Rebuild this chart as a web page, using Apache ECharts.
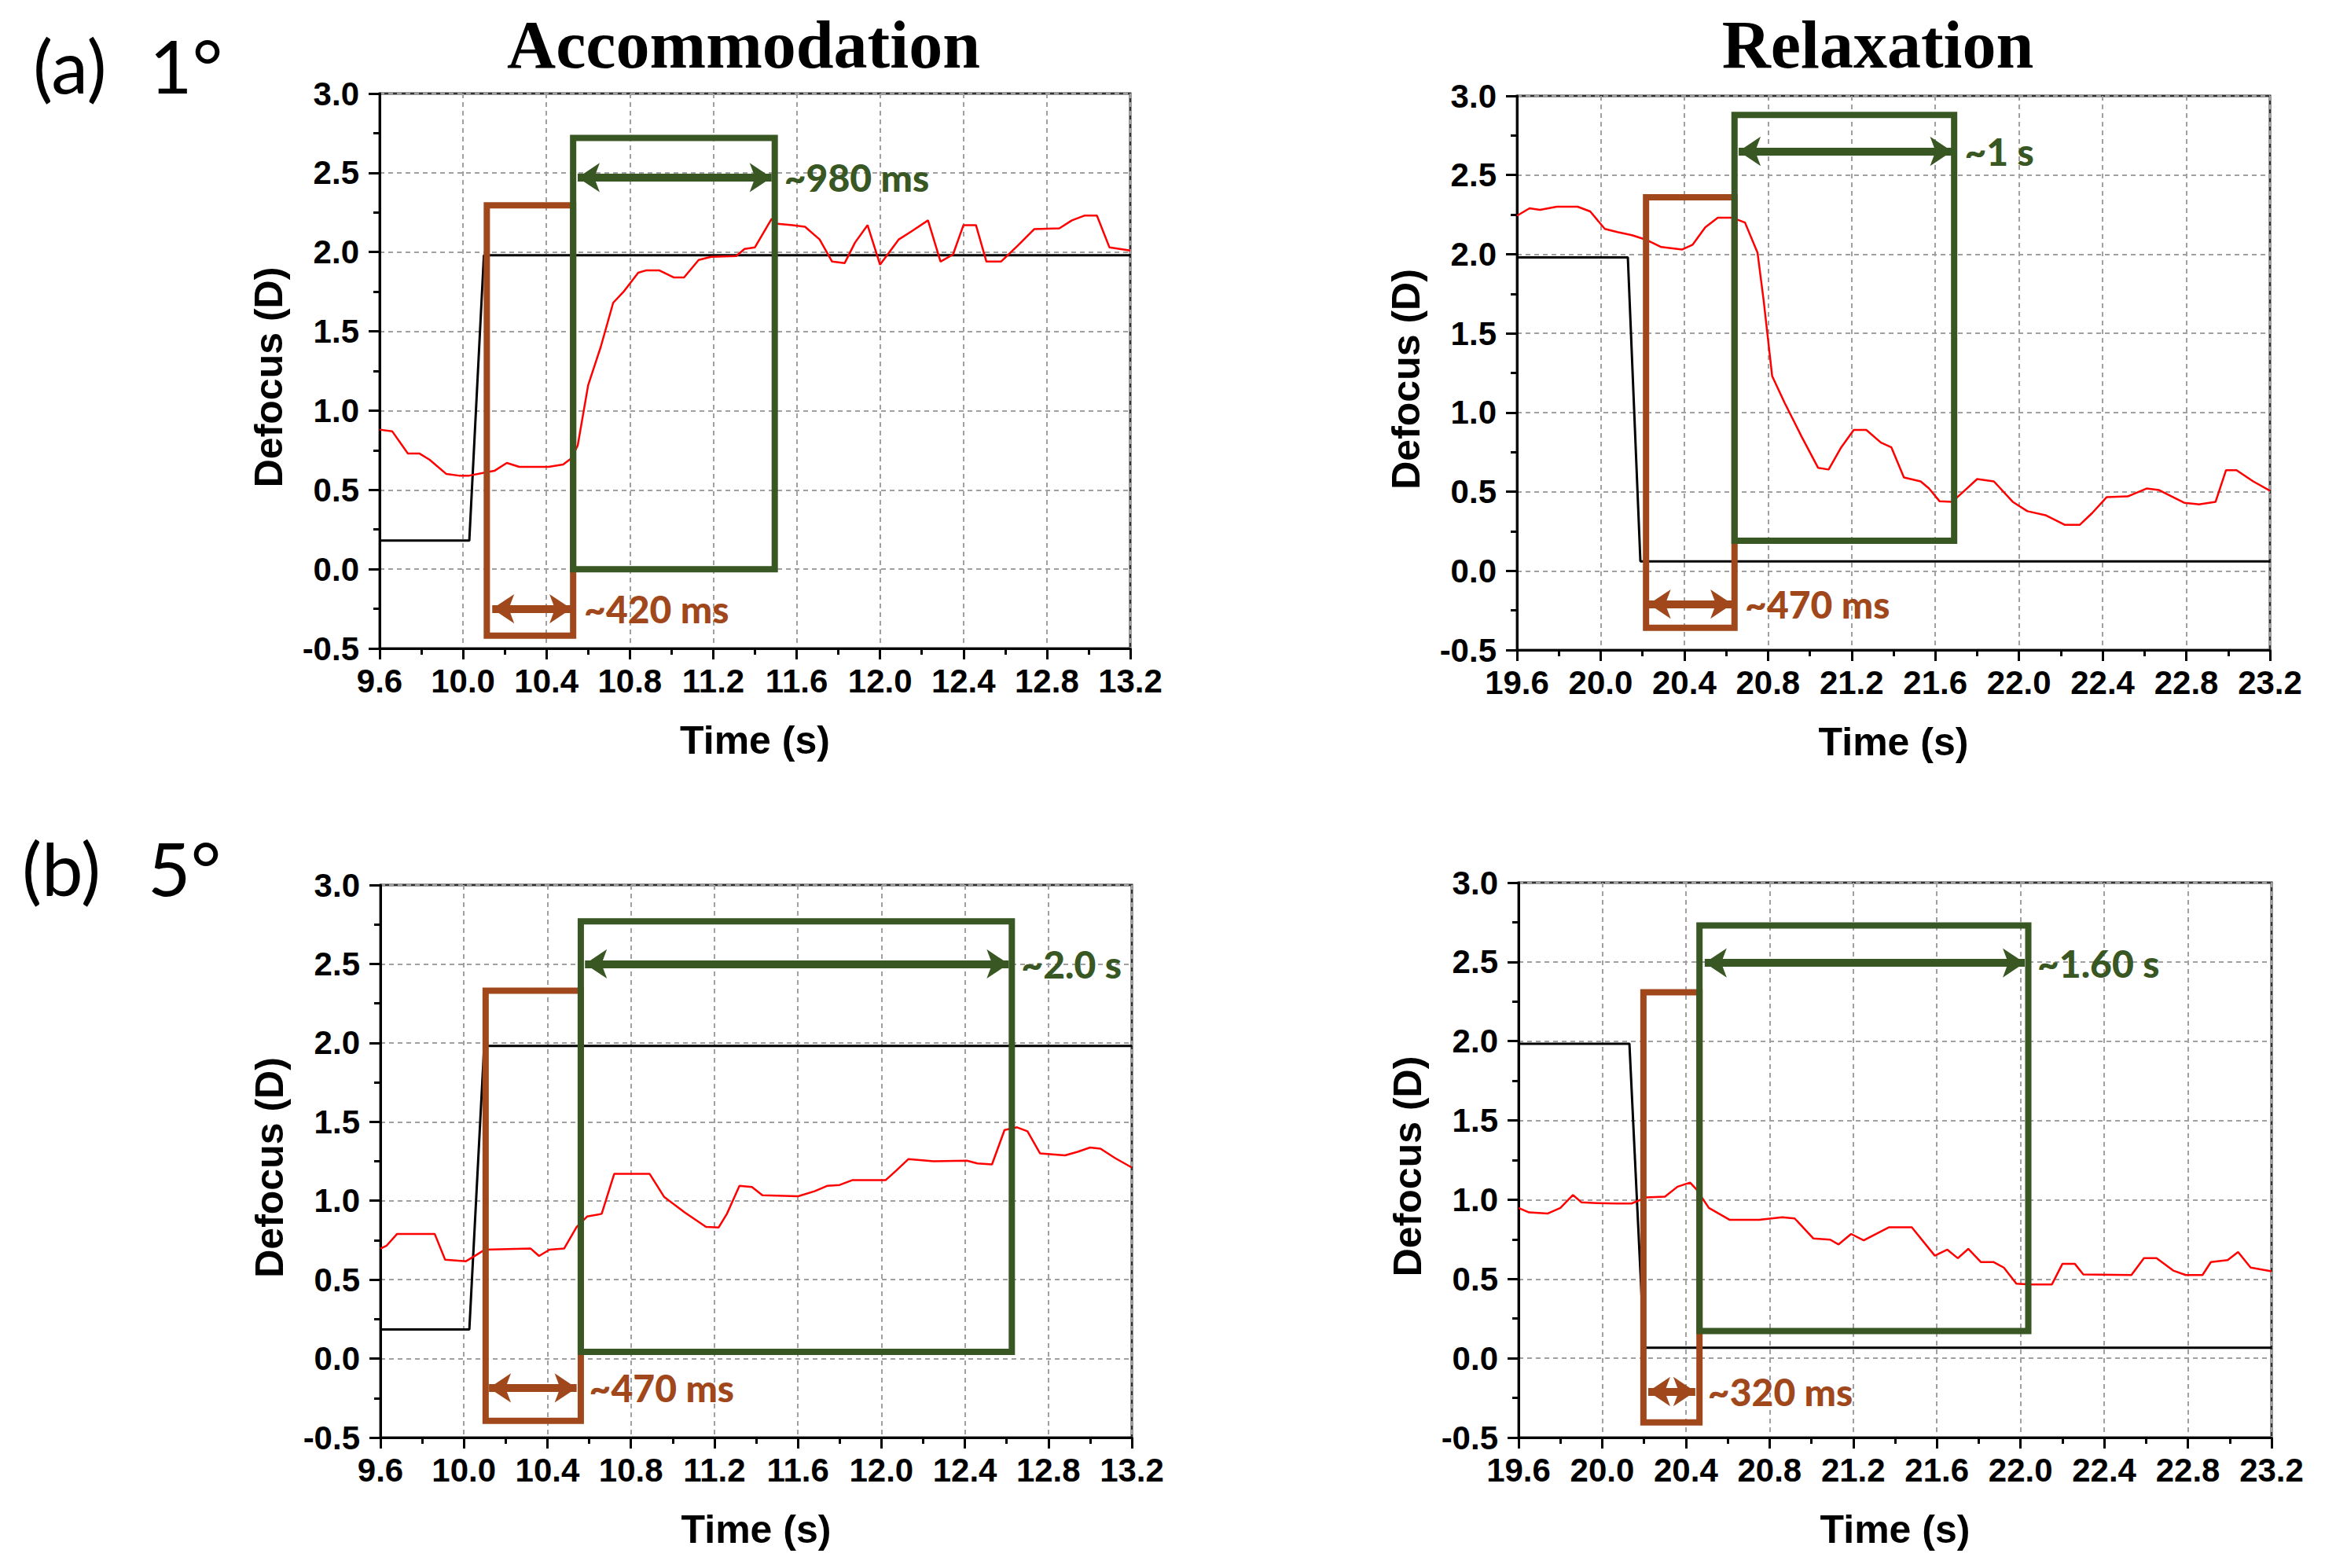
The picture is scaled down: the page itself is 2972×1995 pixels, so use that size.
<!DOCTYPE html>
<html>
<head>
<meta charset="utf-8">
<script src="https://cdn.jsdelivr.net/npm/echarts@6/dist/echarts.min.js"></script>
<style>
html,body{margin:0;padding:0;background:#fff;}
#chart{width:2972px;height:1995px;}
</style>
</head>
<body>
<div id="chart"></div>
<script>
// ---------- DATA ----------
const panelTitles = ['Accommodation', 'Relaxation'];
const rowLabels = [['(a)', '1°'], ['(b)', '5°']];
const xRanges = [[9.6, 13.2], [19.6, 23.2], [9.6, 13.2], [19.6, 23.2]];
const yRange = [-0.5, 3.0];

// Measured defocus (red)
const measuredA = [[9.6,0.88],[9.66,0.87],[9.735,0.73],[9.79,0.73],[9.84,0.69],[9.92,0.60],[9.98,0.59],[10.03,0.59],[10.11,0.61],[10.15,0.62],[10.21,0.67],[10.27,0.645],[10.41,0.645],[10.48,0.66],[10.52,0.70],[10.55,0.78],[10.60,1.16],[10.66,1.40],[10.72,1.68],[10.77,1.75],[10.84,1.87],[10.88,1.885],[10.94,1.885],[11.01,1.84],[11.06,1.84],[11.13,1.95],[11.19,1.97],[11.31,1.975],[11.35,2.02],[11.40,2.03],[11.48,2.21],[11.50,2.18],[11.58,2.17],[11.64,2.16],[11.71,2.08],[11.77,1.94],[11.83,1.93],[11.88,2.06],[11.94,2.17],[12.00,1.92],[12.09,2.08],[12.15,2.13],[12.23,2.20],[12.29,1.94],[12.35,1.985],[12.40,2.17],[12.46,2.17],[12.51,1.94],[12.58,1.94],[12.66,2.04],[12.74,2.145],[12.86,2.15],[12.92,2.20],[12.98,2.23],[13.04,2.23],[13.10,2.03],[13.2,2.01]];
const measuredB = [[19.6,2.243],[19.66,2.29],[19.71,2.28],[19.79,2.30],[19.89,2.30],[19.95,2.27],[20.02,2.16],[20.08,2.14],[20.15,2.12],[20.22,2.09],[20.29,2.045],[20.39,2.03],[20.44,2.06],[20.50,2.17],[20.56,2.23],[20.63,2.23],[20.69,2.20],[20.75,2.01],[20.78,1.70],[20.82,1.23],[20.88,1.06],[20.96,0.85],[21.04,0.65],[21.09,0.64],[21.15,0.78],[21.21,0.89],[21.27,0.89],[21.34,0.81],[21.39,0.78],[21.45,0.59],[21.53,0.565],[21.57,0.52],[21.62,0.44],[21.68,0.436],[21.73,0.495],[21.80,0.58],[21.88,0.565],[21.97,0.436],[22.04,0.377],[22.13,0.35],[22.22,0.29],[22.29,0.29],[22.35,0.365],[22.42,0.466],[22.52,0.47],[22.61,0.52],[22.67,0.51],[22.79,0.43],[22.86,0.42],[22.94,0.436],[22.99,0.636],[23.04,0.636],[23.12,0.565],[23.2,0.506]];
const measuredC = [[9.6,0.697],[9.63,0.716],[9.68,0.79],[9.86,0.79],[9.91,0.626],[10.01,0.617],[10.06,0.657],[10.10,0.69],[10.32,0.697],[10.36,0.65],[10.41,0.69],[10.48,0.697],[10.54,0.834],[10.59,0.90],[10.66,0.917],[10.72,1.17],[10.89,1.17],[10.96,1.023],[11.06,0.924],[11.16,0.834],[11.22,0.83],[11.26,0.917],[11.32,1.094],[11.38,1.087],[11.43,1.035],[11.60,1.028],[11.68,1.06],[11.74,1.094],[11.80,1.10],[11.86,1.13],[12.02,1.13],[12.07,1.19],[12.13,1.264],[12.25,1.25],[12.41,1.254],[12.46,1.236],[12.53,1.23],[12.59,1.448],[12.65,1.465],[12.70,1.44],[12.76,1.30],[12.88,1.287],[12.94,1.31],[13.00,1.337],[13.05,1.33],[13.12,1.27],[13.2,1.21]];
const measuredD = [[19.6,0.948],[19.65,0.92],[19.74,0.913],[19.80,0.948],[19.86,1.03],[19.90,0.984],[19.975,0.979],[20.07,0.976],[20.14,0.976],[20.21,1.014],[20.30,1.019],[20.36,1.082],[20.42,1.108],[20.45,1.066],[20.51,0.948],[20.61,0.873],[20.75,0.873],[20.86,0.889],[20.92,0.882],[21.01,0.755],[21.09,0.748],[21.13,0.718],[21.19,0.784],[21.25,0.744],[21.37,0.826],[21.48,0.826],[21.59,0.647],[21.65,0.685],[21.70,0.631],[21.75,0.69],[21.81,0.607],[21.87,0.607],[21.92,0.572],[21.98,0.47],[22.05,0.466],[22.15,0.466],[22.20,0.595],[22.26,0.595],[22.30,0.529],[22.53,0.525],[22.59,0.631],[22.65,0.631],[22.73,0.553],[22.79,0.525],[22.87,0.525],[22.91,0.607],[22.99,0.619],[23.04,0.67],[23.10,0.572],[23.2,0.548]];

// Stimulus (black)
const stimulusA = [[9.6,0.18],[10.03,0.18],[10.10,1.98],[13.2,1.98]];
const stimulusB = [[19.6,1.98],[20.13,1.98],[20.19,0.06],[23.2,0.06]];
const stimulusC = [[9.6,0.185],[10.026,0.185],[10.097,1.98],[13.2,1.98]];
const stimulusD = [[19.6,1.984],[20.13,1.984],[20.20,0.066],[23.2,0.066]];

// Boxes [xStart, xEnd, yBottom, yTop]
const latencyBoxA = [10.114, 10.528, -0.42, 2.295];
const responseBoxA = [10.528, 11.495, 0.0, 2.72];
const latencyBoxB = [20.217, 20.64, -0.36, 2.36];
const responseBoxB = [20.64, 21.69, 0.19, 2.88];
const latencyBoxC = [10.104, 10.56, -0.394, 2.33];
const responseBoxC = [10.56, 12.625, 0.043, 2.77];
const latencyBoxD = [20.197, 20.465, -0.405, 2.308];
const responseBoxD = [20.465, 22.037, 0.172, 2.73];

// Double arrows [xStart, xEnd, y]
const latencyArrowA = [10.14, 10.52, -0.25];
const responseArrowA = [10.55, 11.48, 2.47];
const latencyArrowB = [20.23, 20.63, -0.21];
const responseArrowB = [20.66, 21.68, 2.65];
const latencyArrowC = [10.12, 10.54, -0.186];
const responseArrowC = [10.58, 12.61, 2.50];
const latencyArrowD = [20.22, 20.445, -0.21];
const responseArrowD = [20.49, 22.02, 2.494];

const latencyTexts = ['~420 ms', '~470 ms', '~470 ms', '~320 ms'];
const responseTexts = ['~980 ms', '~1 s', '~2.0 s', '~1.60 s'];

// ---------- STYLE / LAYOUT ----------
const BROWN = '#a0481c';
const GREEN = '#385723';
const grids = [
  {left: 483, top: 119, width: 955, height: 706},
  {left: 1930, top: 122, width: 958, height: 705},
  {left: 484, top: 1126, width: 956, height: 703},
  {left: 1932, top: 1123, width: 958, height: 706}
];
const axisFont = 'Liberation Sans, Arial, sans-serif';
const noteFont = 'Lato, "Open Sans", sans-serif';

const panels = [
  {m: measuredA, s: stimulusA, lb: latencyBoxA, rb: responseBoxA, la: latencyArrowA, ra: responseArrowA},
  {m: measuredB, s: stimulusB, lb: latencyBoxB, rb: responseBoxB, la: latencyArrowB, ra: responseArrowB},
  {m: measuredC, s: stimulusC, lb: latencyBoxC, rb: responseBoxC, la: latencyArrowC, ra: responseArrowC},
  {m: measuredD, s: stimulusD, lb: latencyBoxD, rb: responseBoxD, la: latencyArrowD, ra: responseArrowD}
];

function boxPath(b) {
  const xm = (b[0] + b[1]) / 2;
  return [[xm, b[3]], [b[1], b[3]], [b[1], b[2]], [b[0], b[2]], [b[0], b[3]], [xm, b[3]]];
}

const xAxes = [], yAxes = [], series = [];
panels.forEach((p, i) => {
  xAxes.push({
    type: 'value', gridIndex: i, min: xRanges[i][0], max: xRanges[i][1], interval: 0.4,
    axisLine: {show: true, onZero: false, lineStyle: {color: '#000', width: 3}},
    axisTick: {show: true, length: 14, lineStyle: {color: '#000', width: 3}},
    minorTick: {show: true, splitNumber: 2, length: 8, lineStyle: {color: '#000', width: 3}},
    axisLabel: {formatter: v => v.toFixed(1), fontSize: 42, fontWeight: 'bold', fontFamily: axisFont, color: '#000', margin: 20},
    splitLine: {show: true, lineStyle: {type: [6, 5], color: '#a0a0a0', width: 2}},
    name: 'Time (s)', nameLocation: 'middle', nameGap: 92,
    nameTextStyle: {fontSize: 50, fontWeight: 'bold', fontFamily: axisFont, color: '#000'}
  });
  yAxes.push({
    type: 'value', gridIndex: i, min: yRange[0], max: yRange[1], interval: 0.5,
    axisLine: {show: true, onZero: false, lineStyle: {color: '#000', width: 3}},
    axisTick: {show: true, length: 14, lineStyle: {color: '#000', width: 3}},
    minorTick: {show: true, splitNumber: 2, length: 8, lineStyle: {color: '#000', width: 3}},
    axisLabel: {formatter: v => v.toFixed(1), fontSize: 42, fontWeight: 'bold', fontFamily: axisFont, color: '#000', margin: 26},
    splitLine: {show: true, lineStyle: {type: [6, 5], color: '#a0a0a0', width: 2}},
    name: 'Defocus (D)', nameLocation: 'middle', nameGap: 116,
    nameTextStyle: {fontSize: 50, fontWeight: 'bold', fontFamily: axisFont, color: '#000', padding: [0, 16, 0, 0]}
  });
  series.push({
    type: 'line', xAxisIndex: i, yAxisIndex: i, data: p.s, showSymbol: false, silent: true, z: 2,
    lineStyle: {color: '#000', width: 3}
  });
  series.push({
    type: 'line', xAxisIndex: i, yAxisIndex: i, data: p.m, showSymbol: false, silent: true, z: 3,
    lineStyle: {color: '#ff0000', width: 2.5}
  });
  const boxes = [[p.lb, p.la, BROWN, latencyTexts[i]], [p.rb, p.ra, GREEN, responseTexts[i]]];
  boxes.forEach(([b, a, col, txt]) => {
    const arrowStyle = {color: col, width: 10, type: 'solid', opacity: 1};
    series.push({
      type: 'line', xAxisIndex: i, yAxisIndex: i, data: boxPath(b), showSymbol: false, silent: true, z: 5,
      lineStyle: {color: col, width: 8, join: 'miter', cap: 'butt'},
      markLine: {
        silent: true, symbol: ['arrow', 'arrow'], symbolSize: 28, animation: false,
        lineStyle: arrowStyle,
        itemStyle: {color: col},
        label: {show: true, position: 'end', distance: 16, formatter: txt, color: col, fontSize: 48, fontWeight: 900, fontFamily: noteFont},
        emphasis: {disabled: true},
        data: [[{coord: [a[0], a[2]], lineStyle: arrowStyle}, {coord: [a[1], a[2]], lineStyle: arrowStyle}]]
      }
    });
  });
});

const graphics = [
  {type: 'text', x: 946, y: 57, style: {text: panelTitles[0], font: 'bold 86px "Liberation Serif", "Times New Roman", serif', fill: '#000', textAlign: 'center', textVerticalAlign: 'middle'}},
  {type: 'text', x: 2389, y: 57, style: {text: panelTitles[1], font: 'bold 86px "Liberation Serif", "Times New Roman", serif', fill: '#000', textAlign: 'center', textVerticalAlign: 'middle'}}
];
[[42, 190, 82], [28, 188, 1103]].forEach((pos, r) => {
  graphics.push({type: 'text', x: pos[0], y: pos[2], style: {text: rowLabels[r][0], font: '94px ' + noteFont, fill: '#000', textAlign: 'left', textVerticalAlign: 'middle'}});
  graphics.push({type: 'text', x: pos[1], y: pos[2], style: {text: rowLabels[r][1], font: '94px ' + noteFont, fill: '#000', textAlign: 'left', textVerticalAlign: 'middle'}});
});

const chart = echarts.init(document.getElementById('chart'), null, {renderer: 'svg'});
chart.setOption({
  backgroundColor: '#fff',
  animation: false,
  grid: grids.map(g => Object.assign({show: true, borderColor: '#333', borderWidth: 3, backgroundColor: 'transparent', containLabel: false}, g)),
  xAxis: xAxes,
  yAxis: yAxes,
  series: series,
  graphic: graphics
});
</script>
</body>
</html>
